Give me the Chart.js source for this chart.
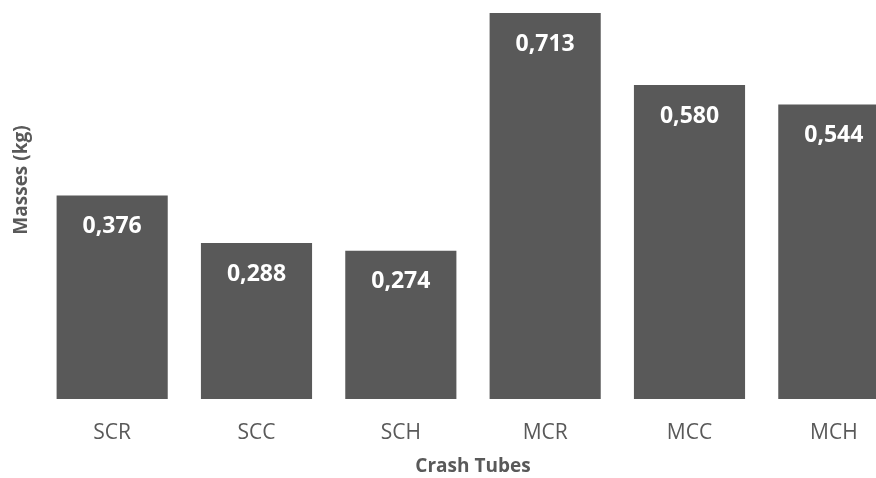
<!DOCTYPE html>
<html>
<head>
<meta charset="utf-8">
<script src="https://cdn.jsdelivr.net/npm/chart.js@4"></script>
<style>
  html, body { margin:0; padding:0; background:#fff; overflow:hidden; }
  #wrap { position:relative; width:906px; height:478px; }
</style>
</head>
<body>
<div id="wrap"><canvas id="chartMasses"></canvas></div>
<script>
/* ===============================
  Crash tube masses
================================ */
const tubes  = ['SCR','SCC','SCH','MCR','MCC','MCH'];
const masses = [0.376, 0.288, 0.274, 0.713, 0.580, 0.544];

const grey = '#595959';
const font = '"Open Sans", "Liberation Sans", sans-serif';

// value labels inside the bars
const barLabels = {
    id:'barLabels',
    afterDatasetsDraw(chart){
        const ctx = chart.ctx;
        ctx.save();
        ctx.fillStyle = '#fff';
        ctx.font = 'bold 23px ' + font;
        ctx.textAlign = 'center';
        ctx.textBaseline = 'middle';
        chart.getDatasetMeta(0).data.forEach((bar, i) => {
            ctx.fillText(masses[i].toFixed(3).replace('.', ','), bar.x, bar.y + 31);
        });
        ctx.restore();
    }
};

// y axis title, placed like the original
const yTitle = {
    id:'yTitle',
    afterDraw(chart){
        const ctx = chart.ctx;
        ctx.save();
        ctx.translate(22, 180);
        ctx.rotate(-Math.PI / 2);
        ctx.fillStyle = grey;
        ctx.font = 'bold 19px ' + font;
        ctx.textAlign = 'center';
        ctx.textBaseline = 'middle';
        ctx.fillText('Masses (kg)', 0, 0);
        ctx.restore();
    }
};

new Chart(document.getElementById('chartMasses'), {
    type:'bar',
    data:{
        labels:tubes,
        datasets:[{
            data:masses,
            backgroundColor:grey,
            categoryPercentage:1,
            barPercentage:0.77
        }]
    },
    options:{
        responsive:true,
        maintainAspectRatio:false,
        animation:false,
        layout:{padding:{left:40, right:0, top:0, bottom:0}},
        plugins:{legend:{display:false}, tooltip:{enabled:false}},
        scales:{
            x:{
                grid:{display:false, drawTicks:false},
                border:{display:false},
                ticks:{color:grey, font:{family:font, size:21}, padding:21},
                title:{display:true, text:'Crash Tubes', color:grey,
                       font:{family:font, size:19, weight:'bold'}, padding:{top:6, bottom:0}},
                afterFit(s){ s.height = 79; }
            },
            y:{
                display:false,
                min:0,
                max:0.737
            }
        }
    },
    plugins:[barLabels, yTitle]
});
</script>
</body>
</html>
